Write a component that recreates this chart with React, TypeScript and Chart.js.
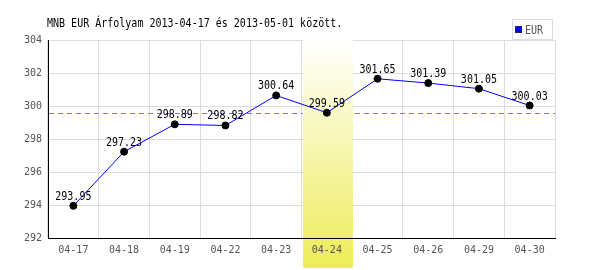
import React, { useEffect, useRef } from "react";
import { Chart, registerables } from "chart.js";

Chart.register(...registerables);

const TITLE = "MNB EUR Árfolyam 2013-04-17 és 2013-05-01 között.";
const SERIES_NAME = "EUR";
const categories = ["04-17", "04-18", "04-19", "04-22", "04-23", "04-24", "04-25", "04-26", "04-29", "04-30"];
const values = [293.95, 297.23, 298.89, 298.82, 300.64, 299.59, 301.65, 301.39, 301.05, 300.03];
const averageValue = 299.6;
const highlightIndex = 5;
const yMin = 292;
const yMax = 304;
const yStep = 2;

const FONT = "'DejaVu Sans Mono', monospace";

function narrowText(ctx: any, text: string, x: number, y: number, align: string) {
  const sx = 0.77;
  ctx.save();
  ctx.font = `13px ${FONT}`;
  ctx.textAlign = align;
  ctx.translate(x, y);
  ctx.scale(sx, 1);
  ctx.fillText(text, 0, 0);
  ctx.restore();
}

const decorPlugin = {
  id: "decor",
  beforeDraw(chart: any) {
    const { ctx } = chart;
    const x = chart.scales.x;
    const area = chart.chartArea;
    const half = (x.getPixelForValue(1) - x.getPixelForValue(0)) / 2;
    const cx = x.getPixelForValue(highlightIndex);
    const g = ctx.createLinearGradient(0, area.top, 0, chart.height - 2);
    g.addColorStop(0, "#ffffff");
    g.addColorStop(1, "#eeec58");
    ctx.save();
    ctx.fillStyle = g;
    ctx.fillRect(Math.round(cx - half) + 1, area.top, Math.round(2 * half) - 1, chart.height - 2 - area.top);
    ctx.restore();
  },
  beforeDatasetsDraw(chart: any) {
    const { ctx } = chart;
    const x = chart.scales.x;
    const y = chart.scales.y;
    const area = chart.chartArea;
    const ay = Math.round(y.getPixelForValue(averageValue)) + 0.5;
    ctx.save();
    ctx.globalAlpha = 1;
    ctx.strokeStyle = "#7373ff";
    ctx.lineWidth = 1;
    ctx.setLineDash([5, 4]);
    ctx.beginPath();
    ctx.moveTo(area.left + 1, ay);
    ctx.lineTo(area.right, ay);
    ctx.stroke();
    ctx.restore();
    const half = (x.getPixelForValue(1) - x.getPixelForValue(0)) / 2;
    const cx = x.getPixelForValue(highlightIndex);
    const g = ctx.createLinearGradient(0, area.top, 0, chart.height - 2);
    g.addColorStop(0, "#ffffff");
    g.addColorStop(1, "#eeec58");
    ctx.save();
    ctx.fillStyle = g;
    ctx.fillRect(Math.round(cx - half) + 1, area.top, Math.round(2 * half) - 1, area.bottom - area.top - 1);
    ctx.restore();
  },
  afterDatasetsDraw(chart: any) {
    const { ctx } = chart;
    const meta = chart.getDatasetMeta(0);
    ctx.save();
    ctx.fillStyle = "#000000";
    ctx.textBaseline = "alphabetic";
    meta.data.forEach((pt: any, i: number) => {
      narrowText(ctx, values[i].toFixed(2), pt.x, pt.y - 6, "center");
    });
    ctx.restore();
  },
  afterDraw(chart: any) {
    const { ctx } = chart;
    ctx.save();
    ctx.fillStyle = "#000000";
    ctx.textBaseline = "alphabetic";
    narrowText(ctx, TITLE, 47, 27, "left");
    ctx.fillStyle = "#ffffff";
    ctx.fillRect(512, 19, 40, 20);
    ctx.strokeStyle = "#dddddd";
    ctx.lineWidth = 1;
    ctx.strokeRect(512.5, 19.5, 40, 20);
    ctx.fillStyle = "#222266";
    ctx.fillRect(515, 26, 7, 7);
    ctx.fillStyle = "#0000ff";
    ctx.fillRect(516, 27, 5, 5);
    ctx.fillStyle = "#555555";
    narrowText(ctx, SERIES_NAME, 525, 34, "left");
    ctx.restore();
  },
};

export default function App() {
  const ref = useRef<HTMLCanvasElement | null>(null);
  useEffect(() => {
    document.body.style.margin = "0";
    const chart = new Chart(ref.current as HTMLCanvasElement, {
      type: "line",
      data: {
        labels: categories,
        datasets: [
          {
            label: SERIES_NAME,
            data: values,
            borderColor: "#0000ff",
            borderWidth: 1,
            pointRadius: 3.5,
            pointBackgroundColor: "#000000",
            pointBorderColor: "#000000",
            pointBorderWidth: 1,
            tension: 0,
            fill: false,
          },
        ],
      },
      options: {
        animation: false,
        responsive: false,
        maintainAspectRatio: false,
        layout: { padding: { top: 40, right: 45, left: 0, bottom: 0 } },
        plugins: { legend: { display: false }, title: { display: false }, tooltip: { enabled: false } },
        scales: {
          x: {
            type: "category",
            offset: true,
            grid: { offset: true, color: "#dddddd", drawTicks: false },
            border: { color: "#000000", width: 1 },
            ticks: { color: "#555555", font: { family: FONT, size: 10 }, padding: 6, maxRotation: 0, autoSkip: false },
            afterFit: (s: any) => { s.height = 32; },
          },
          y: {
            min: yMin,
            max: yMax,
            grid: { color: "#dddddd", drawTicks: false },
            border: { color: "#000000", width: 1 },
            ticks: { stepSize: yStep, color: "#555555", font: { family: FONT, size: 10 }, padding: 6 },
            afterFit: (s: any) => { s.width = 48; },
          },
        },
      },
      plugins: [decorPlugin],
    });
    return () => chart.destroy();
  }, []);
  return (
    <div style={{ width: 600, height: 270 }}>
      <canvas ref={ref} width={600} height={270} style={{ width: 600, height: 270, display: "block" }} />
    </div>
  );
}
